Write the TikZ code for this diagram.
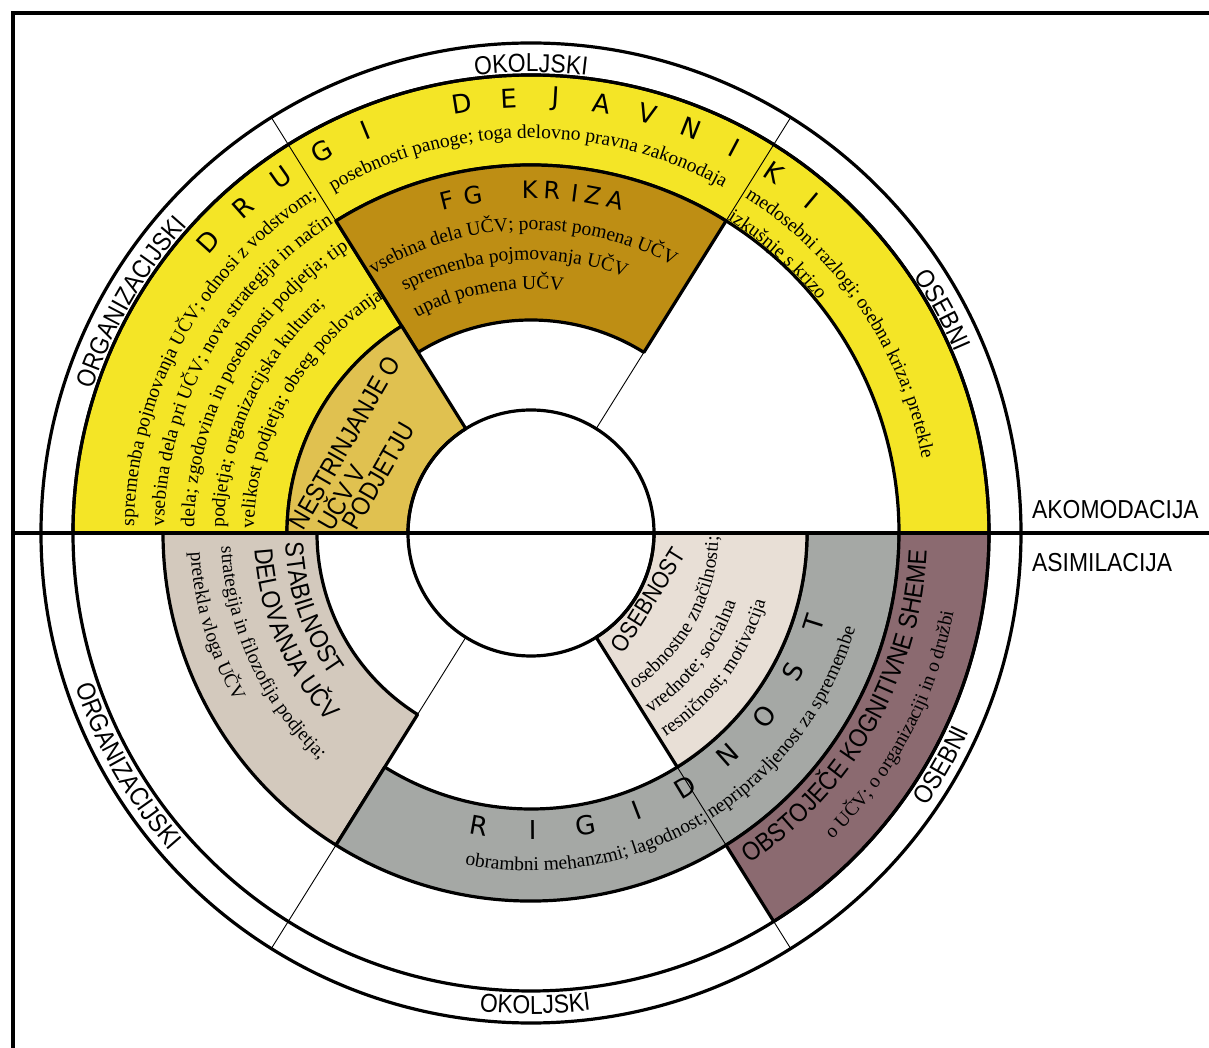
\documentclass[tikz,border=0pt]{standalone}
\usepackage{fontspec}
\setmainfont{Liberation Serif}
\newfontfamily\capsfont[FakeStretch=0.88]{Liberation Sans}
\newfontfamily\spacedfont{DejaVu Sans}
\usetikzlibrary{decorations.text}

\definecolor{ringyellow}{RGB}{244,229,38}
\definecolor{krizagold}{RGB}{190,142,20}
\definecolor{nestgold}{RGB}{224,193,80}
\definecolor{stabbeige}{RGB}{211,201,189}
\definecolor{rigidgray}{RGB}{165,168,165}
\definecolor{osebcream}{RGB}{232,223,214}
\definecolor{shememauve}{RGB}{139,106,112}

\newcommand\bodytext{\rmfamily\fontsize{19.5}{22}\selectfont}
\newcommand\titletext{\capsfont\fontsize{26}{28}\selectfont}
\newcommand\osebtext{\capsfont\fontsize{24}{26}\selectfont}
\newcommand\ringtext{\capsfont\fontsize{26}{28}\selectfont}
\newcommand\bigletter{\spacedfont\fontsize{26}{28}\selectfont}
\newcommand\midletter{\spacedfont\fontsize{24}{26}\selectfont}

\tikzset{
  region/.style={draw=black, line width=3.2pt, line join=round},
  divider/.style={draw=black, line width=0.9pt},
  ring/.style={draw=black, line width=3.2pt},
  borderline/.style={draw=black, line width=4pt},
  spaced/.style={font=\bigletter, inner sep=0pt},
  spacedsmall/.style={font=\midletter, inner sep=0pt},
  plainlabel/.style={font=\ringtext, inner sep=0pt},
}

\begin{document}
\begin{tikzpicture}[x=1pt,y=1pt]
\useasboundingbox (-531,-515) rectangle (678,533);

% outer frame
\draw[borderline] (-518,-515) -- (-518,520) -- (678,520);

% coloured sectors
\path[region, fill=ringyellow] (0:458) arc[start angle=0,end angle=180,radius=458]
  -- (180:244) arc[start angle=180,end angle=122,radius=244]
  -- (122:368) arc[start angle=122,end angle=0,radius=368] -- cycle;
\path[region, fill=krizagold] (58:368) arc[start angle=58,end angle=122,radius=368]
  -- (122:213) arc[start angle=122,end angle=58,radius=213] -- cycle;
\path[region, fill=nestgold] (122:244) arc[start angle=122,end angle=180,radius=244]
  -- (180:123) arc[start angle=180,end angle=122,radius=123] -- cycle;
\path[region, fill=stabbeige] (180:368) arc[start angle=180,end angle=238,radius=368]
  -- (238:214) arc[start angle=238,end angle=180,radius=214] -- cycle;
\path[region, fill=rigidgray] (238:368) arc[start angle=238,end angle=360,radius=368]
  -- (360:276) arc[start angle=360,end angle=238,radius=276] -- cycle;
\path[region, fill=osebcream] (302:123) -- (302:276) arc[start angle=302,end angle=360,radius=276]
  -- (0:123) arc[start angle=360,end angle=302,radius=123] -- cycle;
\path[region, fill=shememauve] (302:368) -- (302:458) arc[start angle=302,end angle=360,radius=458]
  -- (0:368) arc[start angle=360,end angle=302,radius=368] -- cycle;

% thin sector dividers
\draw[divider] (122:368) -- (122:490);
\draw[divider] (58:368) -- (58:490);
\draw[divider] (58:123) -- (58:213);
\draw[divider] (238:123) -- (238:214);
\draw[divider] (238:368) -- (238:490);
\draw[divider] (302:276) -- (302:368);
\draw[divider] (302:458) -- (302:490);

% rings and axis
\draw[ring] (0,0) circle[radius=490];
\draw[ring] (0,0) circle[radius=458];
\draw[ring] (0,0) circle[radius=123];
\draw[ring] (-518,0) -- (678,0);

\node[plainlabel, anchor=west] (akom) at (501,23) {AKOMODACIJA};
\node[plainlabel, anchor=west] (asim) at (501,-30) {ASIMILACIJA};

% ring labels, upper half
\path[decorate, decoration={text along path, text align=center, text={|\ringtext|OKOLJSKI}}]
  (110:461) arc[start angle=110,end angle=70,radius=461];
\path[decorate, decoration={text along path, text align=center, text={|\ringtext|ORGANIZACIJSKI}}]
  (178:461) arc[start angle=178,end angle=122,radius=461];
\path[decorate, decoration={text along path, text align=center, text={|\ringtext|OSEBNI}}]
  (55:461) arc[start angle=55,end angle=2,radius=461];
% ring labels, lower half
\path[decorate, decoration={text along path, text align=center, text={|\ringtext|OKOLJSKI}}]
  (250:481) arc[start angle=250,end angle=291,radius=481];
\path[decorate, decoration={text along path, text align=center, text={|\ringtext|ORGANIZACIJSKI}}]
  (182:481) arc[start angle=182,end angle=238,radius=481];
\path[decorate, decoration={text along path, text align=center, text={|\ringtext|OSEBNI}}]
  (305:481) arc[start angle=305,end angle=356,radius=481];

% DRUGI DEJAVNIKI
\foreach \ch/\a [count=\i] in {D/137.9, R/131.5, U/125.1, G/118.7, I/112.3,
    D/99.1, E/92.95, J/86.8, A/80.65, V/74.5, N/68.35, I/62.2, K/56.05, I/49.9}
  \node[spaced, rotate=\a-90] (dd\i) at (\a:435) {\ch};

\path[decorate, decoration={text along path, text align=center,
  text={|\bodytext|posebnosti panoge; toga delovno pravna zakonodaja}}]
  (126:395) arc[start angle=126,end angle=55,radius=395];

\path[decorate, decoration={text along path,
  text={|\bodytext|spremenba pojmovanja UČV; odnosi z vodstvom;}}]
  (179:397) arc[start angle=179,end angle=100,radius=397];
\path[decorate, decoration={text along path,
  text={|\bodytext|vsebina dela pri UČV; nova strategija in način}}]
  (179:367) arc[start angle=179,end angle=100,radius=367];
\path[decorate, decoration={text along path,
  text={|\bodytext|dela; zgodovina in posebnosti podjetja; tip}}]
  (179:337) arc[start angle=179,end angle=100,radius=337];
\path[decorate, decoration={text along path,
  text={|\bodytext|podjetja; organizacijska kultura;}}]
  (179:307) arc[start angle=179,end angle=100,radius=307];
\path[decorate, decoration={text along path,
  text={|\bodytext|velikost podjetja; obseg poslovanja}}]
  (179:277) arc[start angle=179,end angle=100,radius=277];

\path[decorate, decoration={text along path,
  text={|\bodytext|medosebni razlogi; osebna kriza; pretekle}}]
  (57.5:398) arc[start angle=57.5,end angle=2,radius=398];
\path[decorate, decoration={text along path,
  text={|\bodytext|izkušnje s krizo}}]
  (57.9:370) arc[start angle=57.9,end angle=20,radius=370];

% FG KRIZA
\foreach \ch/\a [count=\i] in {F/104.1, G/99.7, K/90.2, R/86.5, I/82.6, Z/79.5, A/75.8}
  \node[spacedsmall, rotate=\a-90] (fg\i) at (\a:343) {\ch};
\path[decorate, decoration={text along path,
  text={|\bodytext|vsebina dela UČV; porast pomena UČV}}]
  (121.3:303) arc[start angle=121.3,end angle=50,radius=303];
\path[decorate, decoration={text along path,
  text={|\bodytext|spremenba pojmovanja UČV}}]
  (117.5:273) arc[start angle=117.5,end angle=50,radius=273];
\path[decorate, decoration={text along path,
  text={|\bodytext|upad pomena UČV}}]
  (117.8:244) arc[start angle=117.8,end angle=60,radius=244];

% NESTRINJANJE O UČV V PODJETJU
\node[plainlabel, font=\titletext, rotate=60, anchor=west] (nest1) at (-235,6) {NESTRINJANJE O};
\node[plainlabel, font=\titletext, rotate=60, anchor=west] (nest2) at (-208.5,6) {UČV V};
\node[plainlabel, font=\titletext, rotate=60, anchor=west] (nest3) at (-182,6) {PODJETJU};

% STABILNOST DELOVANJA UCV
\path[decorate, decoration={text along path, text={|\titletext|STABILNOST}}]
  (182.3:246) arc[start angle=182.3,end angle=236,radius=246];
\path[decorate, decoration={text along path, text={|\titletext|DELOVANJA UČV}}]
  (183.4:277) arc[start angle=183.4,end angle=236,radius=277];
\path[decorate, decoration={text along path,
  text={|\bodytext|strategija in filozofija podjetja;}}]
  (182.5:310) arc[start angle=182.5,end angle=236,radius=310];
\path[decorate, decoration={text along path,
  text={|\bodytext|pretekla vloga UČV}}]
  (183.3:341) arc[start angle=183.3,end angle=236,radius=341];

% RIGIDNOST
\foreach \ch/\a [count=\i] in {R/260, I/270.3, G/280.6, I/290.9, D/301.2,
    N/311.5, O/321.8, S/332.1, T/342.4}
  \node[spaced, rotate=\a+90] (rg\i) at (\a:297) {\ch};
\path[decorate, decoration={text along path,
  text={|\bodytext|obrambni mehanzmi; lagodnost; nepripravljenost za spremembe}}]
  (258.7:338) arc[start angle=258.7,end angle=362,radius=338];

% OSEBNOST
\node[plainlabel, font=\osebtext, rotate=58] (oseb) at (117,-67) {OSEBNOST};
\path[decorate, decoration={text along path,
  text={|\bodytext|osebnostne značilnosti;}}]
  (303.5:187.5) arc[start angle=303.5,end angle=365,radius=187.5];
\path[decorate, decoration={text along path,
  text={|\bodytext|vrednote; socialna}}]
  (303.5:216.5) arc[start angle=303.5,end angle=362,radius=216.5];
\path[decorate, decoration={text along path,
  text={|\bodytext|resničnost; motivacija}}]
  (303.5:244.5) arc[start angle=303.5,end angle=362,radius=244.5];

% OBSTOJECE KOGNITIVNE SHEME
\path[decorate, decoration={text along path, text align=center,
  text={|\titletext|OBSTOJEČE KOGNITIVNE SHEME}}]
  (301:396) arc[start angle=301,end angle=360,radius=396];
\path[decorate, decoration={text along path,
  text={|\bodytext|o UČV; o organizaciji in o družbi}}]
  (314.5:430) arc[start angle=314.5,end angle=362,radius=430];
\end{tikzpicture}
\end{document}
